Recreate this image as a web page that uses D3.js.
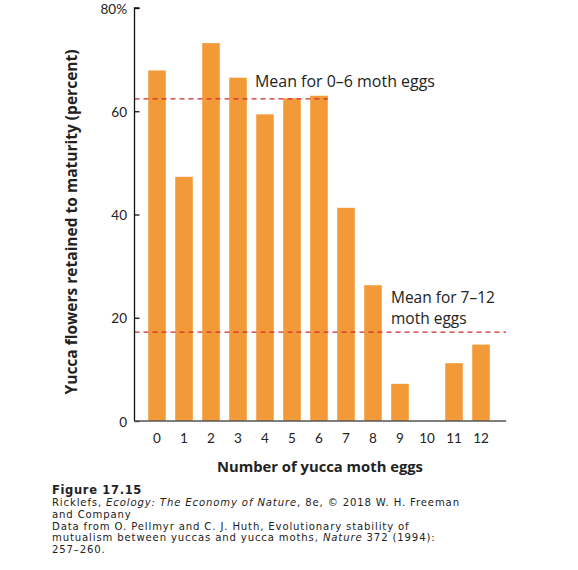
<html>
<head>
	<title>Yucca moth eggs</title>
	<script src="https://d3js.org/d3.v7.min.js"></script>
	<style type="text/css">
		body {
			margin: 0;
			padding: 0;
			background: #fff;
		}
		text { font-family: "Open Sans", Lato, sans-serif; fill: #222; }
		text.tick { font-family: Lato, "Open Sans", sans-serif; }
		text.cap { font-family: "DejaVu Sans", sans-serif; }
	</style>
</head>
<body>

<div id="chart"></div>

<script>

// data
var eggs = ["0","1","2","3","4","5","6","7","8","9","10","11","12"];
var retained = [67.9, 47.3, 73.2, 66.5, 59.4, 62.5, 63.0, 41.3, 26.3, 7.2, 0, 11.2, 14.8];
var yTicks = [0, 20, 40, 60, 80];
var meanLow = 62.4;   // mean for 0-6 eggs
var meanHigh = 17.2;  // mean for 7-12 eggs
var caption = [
	"Ricklefs, |Ecology: The Economy of Nature|, 8e, \u00a9 2018 W. H. Freeman",
	"and Company",
	"Data from O. Pellmyr and C. J. Huth, Evolutionary stability of",
	"mutualism between yuccas and yucca moths, |Nature| 372 (1994):",
	"257\u2013260."
];

var W = 578, H = 570;

var svg = d3.select("#chart").append("svg")
	.attr("width", W)
	.attr("height", H);

// shrink/grow a text's font so it spans about w pixels
function fit(sel, w) {
	var fs = parseFloat(sel.style("font-size"));
	var len = sel.node().getComputedTextLength();
	sel.style("font-size", (fs * w / len).toFixed(2) + "px");
	return sel;
}

// widen a text with letter spacing so it spans about w pixels
function spread(sel, w) {
	var len = sel.node().getComputedTextLength();
	var n = sel.text().length;
	var ls = Math.max(0, (w - len) / n);
	sel.style("letter-spacing", ls.toFixed(2) + "px");
	return ls;
}

var x = d3.scaleBand()
	.domain(eggs)
	.range([143.5, 494.5])
	.paddingInner(0.35)
	.paddingOuter(0.175);

var y = d3.scaleLinear()
	.domain([0, 80])
	.range([421, 8]);

var axisLeft = 134.5, axisRight = 506;

// bars
svg.selectAll("rect.bar")
	.data(retained)
	.enter().append("rect")
	.attr("class", "bar")
	.attr("x", function(d, i) { return x(eggs[i]); })
	.attr("width", x.bandwidth())
	.attr("y", function(d) { return y(d); })
	.attr("height", function(d) { return y(0) - y(d); })
	.attr("fill", "#F39A38");

// mean lines
svg.append("line")
	.attr("x1", axisLeft).attr("x2", x("6") + x.bandwidth())
	.attr("y1", y(meanLow)).attr("y2", y(meanLow))
	.attr("stroke", "#D42B2E").attr("stroke-width", 1.2)
	.attr("stroke-dasharray", "5,4");

svg.append("line")
	.attr("x1", axisLeft).attr("x2", axisRight)
	.attr("y1", y(meanHigh)).attr("y2", y(meanHigh))
	.attr("stroke", "#D42B2E").attr("stroke-width", 1.2)
	.attr("stroke-dasharray", "5,4");

// y axis
var yAxis = d3.axisRight(y)
	.tickValues(yTicks)
	.tickSize(5)
	.tickFormat(function(d) { return ""; });

var gy = svg.append("g")
	.attr("transform", "translate(" + axisLeft + ",0)")
	.call(yAxis);
gy.select(".domain").attr("d", "M5," + y(80) + "H0V" + y(0)).attr("stroke", "#111").attr("stroke-width", 1.3);
gy.selectAll(".tick line").attr("stroke", "#111").attr("stroke-width", 1.3);

svg.selectAll("text.ytick")
	.data(yTicks)
	.enter().append("text")
	.attr("class", "ytick tick")
	.attr("x", 127)
	.attr("y", function(d) { return Math.max(y(d) + 5.5, 14.2); })
	.attr("text-anchor", "end")
	.style("font-size", "13.5px")
	.text(function(d) { return d == 80 ? "80%" : d; });

// x axis
svg.append("line")
	.attr("x1", axisLeft).attr("x2", axisRight)
	.attr("y1", y(0)).attr("y2", y(0))
	.attr("stroke", "#555").attr("stroke-width", 1.3);

svg.selectAll("text.xtick")
	.data(eggs)
	.enter().append("text")
	.attr("class", "xtick tick")
	.attr("x", function(d) { return x(d) + x.bandwidth() / 2; })
	.attr("y", 442.5)
	.attr("text-anchor", "middle")
	.style("font-size", "13.5px")
	.text(function(d) { return d; });

// axis titles
fit(svg.append("text")
	.attr("x", 320).attr("y", 472)
	.attr("text-anchor", "middle")
	.style("font-size", "15px").style("font-weight", "bold")
	.text("Number of yucca moth eggs"), 206);

fit(svg.append("text")
	.attr("transform", "translate(77,222) rotate(-90)")
	.attr("text-anchor", "middle")
	.style("font-size", "15px").style("font-weight", "bold")
	.text("Yucca flowers retained to maturity (percent)"), 345);

// mean labels
fit(svg.append("text")
	.attr("x", 255).attr("y", 87)
	.style("font-size", "16px")
	.text("Mean for 0\u20136 moth eggs"), 180);

var lbl = svg.append("text")
	.attr("x", 391).attr("y", 303)
	.style("font-size", "16px");
lbl.append("tspan").attr("x", 391).text("Mean for 7\u201312");
lbl.append("tspan").attr("x", 391).attr("dy", 20.5).text("moth eggs");
lbl.style("font-size", (16 * 104 / lbl.select("tspan").node().getComputedTextLength()).toFixed(2) + "px");

// caption
var fig = svg.append("text")
	.attr("class", "cap")
	.attr("x", 52).attr("y", 493.5)
	.style("font-size", "11.5px").style("font-weight", "bold")
	.text("Figure 17.15");
spread(fig, 90);

var capSpacing = 0;
caption.forEach(function(line, i) {
	var t = svg.append("text")
		.attr("class", "cap")
		.attr("x", 52).attr("y", 506 + i * 11.8)
		.style("font-size", "10.1px");
	line.split("|").forEach(function(part, j) {
		t.append("tspan")
			.style("font-style", j % 2 ? "italic" : "normal")
			.text(part);
	});
	if (i == 0) capSpacing = spread(t, 408);
	t.style("letter-spacing", capSpacing.toFixed(2) + "px");
});

</script>
</body>
</html>
